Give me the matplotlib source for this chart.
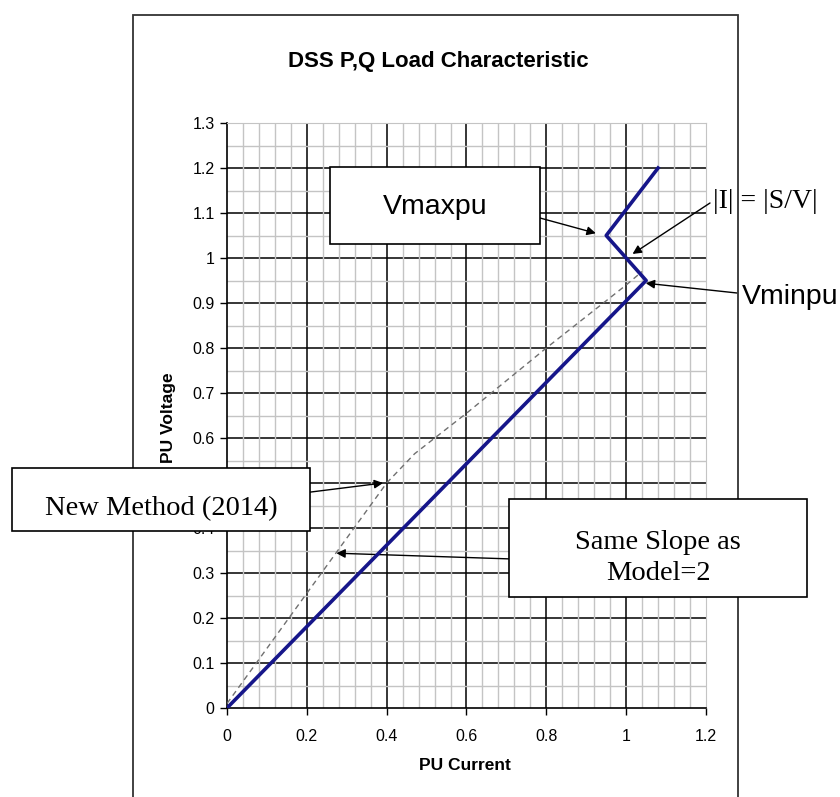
import matplotlib.pyplot as plt
from matplotlib.patches import Rectangle
from matplotlib.ticker import FuncFormatter, MultipleLocator

plt.rcParams['font.family'] = ['Liberation Sans', 'DejaVu Sans']

# Load characteristic (solid): linear up to Vminpu, |I| = |S/V| to Vmaxpu, linear again
current = [0.0, 1.05, 1.00, 0.95, 1.08]
voltage = [0.0, 0.95, 1.00, 1.05, 1.20]

# New method (2014), dashed curve
new_current = [0.0, 0.40, 0.47, 0.60, 0.80, 1.00, 1.04]
new_voltage = [0.01, 0.50, 0.565, 0.655, 0.80, 0.94, 0.97]

x_ticks = [0, 0.2, 0.4, 0.6, 0.8, 1.0, 1.2]
y_ticks = [0, 0.1, 0.2, 0.3, 0.4, 0.5, 0.6, 0.7, 0.8, 0.9, 1.0, 1.1, 1.2, 1.3]

# points the callouts point at (current, voltage)
vmax_pt = (0.924, 1.055)
svi_pt = (1.016, 1.009)
vmin_pt = (1.049, 0.944)
newm_pt = (0.391, 0.50)
slope_pt = (0.274, 0.344)

W, H = 840, 797


def fx(px):
    return px / W


def fy(py):
    return 1 - py / H


fig = plt.figure(figsize=(8.4, 7.97), dpi=100)
ax = fig.add_axes([fx(227), fy(708), fx(706) - fx(227), fy(123) - fy(708)])

# outer frame around the chart
fig.patches.append(Rectangle((fx(133), -0.05), fx(738) - fx(133), fy(15) + 0.05,
                             transform=fig.transFigure, fill=False,
                             edgecolor='#333333', lw=1.3))

ax.set_xlim(0, 1.2)
ax.set_ylim(0, 1.3)
ax.set_xticks(x_ticks)
ax.set_yticks(y_ticks)
ax.xaxis.set_minor_locator(MultipleLocator(0.04))
ax.yaxis.set_minor_locator(MultipleLocator(0.05))
fmt = FuncFormatter(lambda v, p: f'{v:g}')
ax.xaxis.set_major_formatter(fmt)
ax.yaxis.set_major_formatter(fmt)
ax.tick_params(which='major', direction='out', length=5, width=1, labelsize=11.5)
ax.tick_params(axis='x', which='major', pad=10)
ax.tick_params(axis='y', which='major', pad=4)
ax.tick_params(which='minor', length=0)
ax.grid(which='minor', color='#c4c4c4', lw=1)
ax.vlines(x_ticks[1:-1], 0, 1.3, color='black', lw=1.1, zorder=1)
ax.hlines(y_ticks[1:-1], 0, 1.2, color='black', lw=1.1, zorder=1)
for s in ['top', 'right']:
    ax.spines[s].set_color('#c4c4c4')
for s in ['left', 'bottom']:
    ax.spines[s].set_linewidth(1.2)

ax.plot(new_current, new_voltage, color='#707070', lw=1, dashes=(4, 3), zorder=3)
ax.plot(current, voltage, color='#16168a', lw=2.6, zorder=4)

fig.text(fx(438), fy(61), 'DSS P,Q Load Characteristic', ha='center', va='center',
         fontsize=16, weight='bold')
fig.text(fx(465), fy(765), 'PU Current', ha='center', va='center', fontsize=12.5, weight='bold')
fig.text(fx(169), fy(418), 'PU Voltage', ha='center', va='center', fontsize=12.5,
         weight='bold', rotation=90)

# callout arrows
arrows = [(vmax_pt, (540, 218)), (svi_pt, (710, 203)), (vmin_pt, (737, 293)),
          (newm_pt, (287, 495)), (slope_pt, (543, 560))]
for tip, tail in arrows:
    ax.annotate('', xy=tip, xycoords='data', xytext=(fx(tail[0]), fy(tail[1])),
                textcoords='figure fraction', annotation_clip=False,
                arrowprops=dict(arrowstyle='-|>', color='black', lw=1,
                                mutation_scale=13, shrinkA=0, shrinkB=0))

# callout boxes
boxes = [(330, 167, 540, 244), (12, 468, 310, 531), (509, 499, 807, 597)]
for x0, y0, x1, y1 in boxes:
    fig.patches.append(Rectangle((fx(x0), fy(y1)), fx(x1) - fx(x0), fy(y0) - fy(y1),
                                 transform=fig.transFigure, facecolor='white',
                                 edgecolor='black', lw=1.2, zorder=5))

serif = ['Liberation Serif', 'DejaVu Serif']
fig.text(fx(435), fy(207), 'Vmaxpu', ha='center', va='center', fontsize=20.5, zorder=6)
fig.text(fx(790), fy(297), 'Vminpu', ha='center', va='center', fontsize=20.5, zorder=6)
fig.text(fx(765), fy(202), '|I| = |S/V|', ha='center', va='center', fontsize=20,
         family=serif, zorder=6)
fig.text(fx(161), fy(509), 'New Method (2014)', ha='center', va='center', fontsize=20.5,
         family=serif, zorder=6)
fig.text(fx(658), fy(558), 'Same Slope as\nModel=2', ha='center', va='center', fontsize=20.5,
         family=serif, linespacing=1.35, zorder=6)

fig.savefig('out.png', dpi=100)
